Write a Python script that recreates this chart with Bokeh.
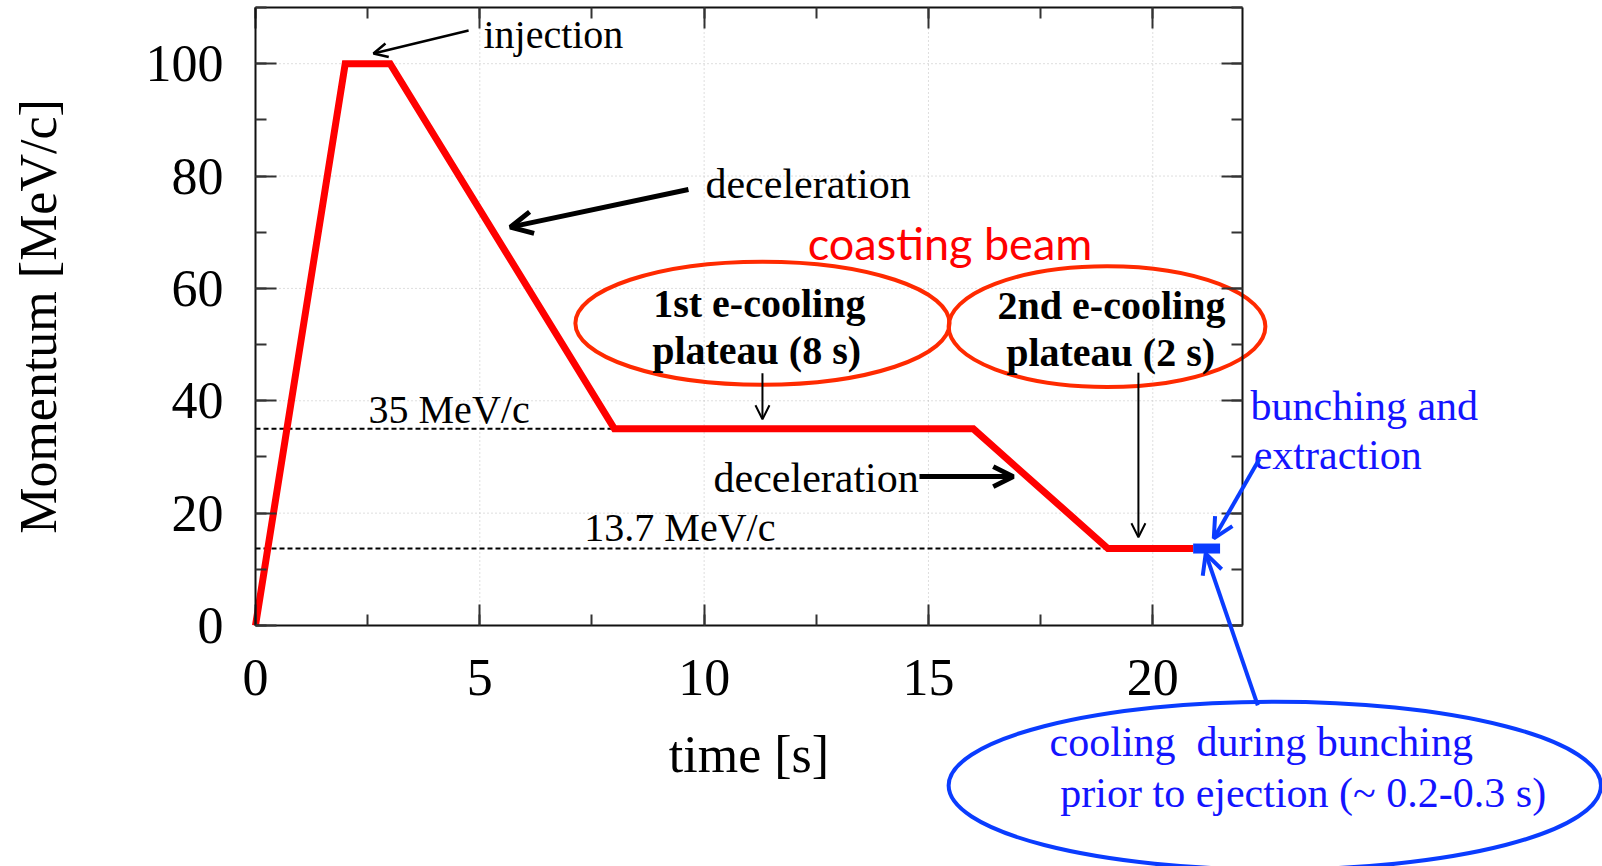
from bokeh.plotting import figure
from bokeh.models import (Range1d, LinearAxis, SingleIntervalTicker, Label, Arrow, OpenHead)
from bokeh.embed import file_html
from bokeh.resources import INLINE

# Momentum ramp of the ring cycle
time_s = [0, 2, 3, 8, 16, 19, 20.9]
momentum = [0, 100, 100, 35, 35, 13.7, 13.7]

# Short bunching segment at the end of the cycle
bunch_time = [20.9, 21.5]
bunch_momentum = [13.7, 13.7]

# Reference momentum levels (dashed guides) and where they stop
ref_levels = [35, 13.7]
ref_ends = [8, 19]
ref_labels = ["35 MeV/c", "13.7 MeV/c"]

# Axis extents and grid positions
T_MAX = 22
P_MAX = 110
x_grid = [5, 10, 15, 20]
y_grid = [20, 40, 60, 80, 100]

SERIF = "Liberation Serif"
RED = "#ff0000"
ORANGE_RED = "#ff2a00"
BLUE = "#0a3cff"
BLUE_TXT = "#1414ff"

# The plotting frame spans the whole page; the axes box is drawn with
# fixed-location axes so the call-outs around it are never clipped.
PX_PER_S = 987 / T_MAX
PX_PER_P = 618 / P_MAX
x_range = Range1d(-255 / PX_PER_S, T_MAX + 360 / PX_PER_S)
y_range = Range1d(-241 / PX_PER_P, P_MAX + 7 / PX_PER_P)

p = figure(width=1602, height=866, x_range=x_range, y_range=y_range,
           min_border=0, output_backend="svg", toolbar_location=None,
           x_axis_location=None, y_axis_location=None)
p.background_fill_color = "white"
p.border_fill_color = "white"
p.outline_line_color = None
p.xgrid.visible = False
p.ygrid.visible = False


def style_axis(ax, show_labels):
    ax.axis_line_color = "#111111"
    ax.axis_line_width = 2
    ax.major_tick_line_color = "#333333"
    ax.minor_tick_line_color = "#333333"
    ax.major_tick_line_width = 2
    ax.minor_tick_line_width = 2
    ax.major_tick_in = 21
    ax.major_tick_out = 0
    ax.minor_tick_in = 11
    ax.minor_tick_out = 0
    if show_labels:
        ax.major_label_text_font = SERIF
        ax.major_label_text_font_size = "52px"
        ax.major_label_text_color = "black"
        ax.axis_label_text_font = SERIF
        ax.axis_label_text_font_size = "52px"
        ax.axis_label_text_font_style = "normal"
        ax.axis_label_text_color = "black"
    else:
        ax.major_label_text_color = None
        ax.major_label_standoff = 0


def ticker_x():
    return SingleIntervalTicker(interval=5, num_minor_ticks=2)


def ticker_y():
    return SingleIntervalTicker(interval=20, num_minor_ticks=2)


xb = LinearAxis(ticker=ticker_x(), axis_label="time [s]", fixed_location=0, bounds=(0, T_MAX))
style_axis(xb, True)
xb.major_label_standoff = 34
xb.axis_label_standoff = 28
p.add_layout(xb, "below")

yl = LinearAxis(ticker=ticker_y(), axis_label="Momentum [MeV/c]", fixed_location=0,
                bounds=(0, P_MAX))
style_axis(yl, True)
yl.major_label_standoff = 32
yl.axis_label_standoff = 76
p.add_layout(yl, "left")

xa = LinearAxis(ticker=ticker_x(), fixed_location=P_MAX, bounds=(0, T_MAX))
style_axis(xa, False)
p.add_layout(xa, "above")

yr = LinearAxis(ticker=ticker_y(), fixed_location=T_MAX, bounds=(0, P_MAX))
style_axis(yr, False)
p.add_layout(yr, "right")

# dotted grid inside the axes box
grid_style = dict(line_color="#bdbdbd", line_width=1, line_dash="1 3", level="underlay")
p.segment(x0=x_grid, y0=[0] * len(x_grid), x1=x_grid, y1=[P_MAX] * len(x_grid), **grid_style)
p.segment(x0=[0] * len(y_grid), y0=y_grid, x1=[T_MAX] * len(y_grid), y1=y_grid, **grid_style)

# dashed reference levels
for lvl, xe in zip(ref_levels, ref_ends):
    p.line([0, xe], [lvl, lvl], line_color="black", line_width=2, line_dash="5 3")

# momentum cycle
p.line(time_s, momentum, line_color=RED, line_width=7, line_join="miter")
p.line(bunch_time, bunch_momentum, line_color=BLUE, line_width=10, line_cap="butt")


def label(x, y, text, size="42px", color="black", align="left", style="normal", font=SERIF):
    p.add_layout(Label(x=x, y=y, text=text, text_font=font, text_font_size=size,
                       text_color=color, text_align=align, text_baseline="middle",
                       text_font_style=style))


def arrow(x0, y0, x1, y1, color="black", width=2, head=14):
    p.add_layout(Arrow(x_start=x0, y_start=y0, x_end=x1, y_end=y1,
                       line_color=color, line_width=width,
                       end=OpenHead(size=head, line_color=color, line_width=width)))


def ellipse(cx, cy, w, h, color, width):
    p.ellipse(x=[cx], y=[cy], width=[w], height=[h], fill_color=None,
              line_color=color, line_width=width)


# labels on the reference levels
label(2.52, 38.5, ref_labels[0], size="40px")
label(7.33, 17.4, ref_labels[1], size="40px")

# injection
label(5.08, 105.2, "injection", size="40px")
arrow(4.75, 105.9, 2.63, 101.8, width=2.5, head=14)

# deceleration arrows
label(10.03, 78.5, "deceleration")
arrow(9.65, 77.6, 5.68, 70.9, width=5, head=22)
label(10.21, 26.2, "deceleration")
arrow(14.8, 26.5, 16.89, 26.5, width=5, head=20)

# coasting beam plateaus
label(15.48, 68.0, "coasting beam", size="45px", color=RED, align="center", font="Lato")
ellipse(11.30, 53.8, 8.34, 21.9, ORANGE_RED, 4)
ellipse(18.98, 53.2, 7.06, 21.5, ORANGE_RED, 4)
label(11.23, 57.3, "1st e-cooling", size="40px", align="center", style="bold")
label(11.17, 49.0, "plateau (8 s)", size="40px", align="center", style="bold")
label(19.08, 57.0, "2nd e-cooling", size="40px", align="center", style="bold")
label(19.06, 48.6, "plateau (2 s)", size="40px", align="center", style="bold")
arrow(11.30, 44.9, 11.30, 36.7, width=2, head=14)
arrow(19.68, 45.0, 19.68, 15.7, width=2, head=14)

# bunching and extraction
label(22.18, 39.0, "bunching and", color=BLUE_TXT)
label(22.25, 30.4, "extraction", color=BLUE_TXT)
arrow(22.38, 29.7, 21.36, 15.5, color=BLUE, width=4, head=20)

ellipse(22.72, -28.5, 14.54, 29.9, BLUE, 4)
label(17.70, -20.8, "cooling \u00a0during bunching", color=BLUE_TXT)
label(17.94, -29.9, "prior to ejection (~ 0.2-0.3 s)", color=BLUE_TXT)
arrow(22.34, -14.2, 21.18, 12.8, color=BLUE, width=4, head=20)

open("out.html", "w").write(file_html(p, INLINE))
